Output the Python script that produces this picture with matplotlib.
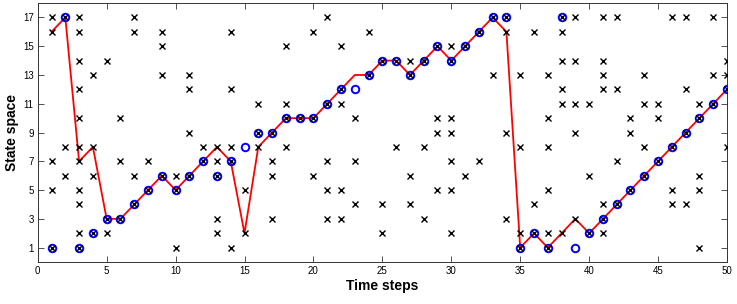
import numpy as np
import matplotlib
matplotlib.use("Agg")
import matplotlib.pyplot as plt

plt.rcParams['font.family'] = ['Liberation Sans', 'DejaVu Sans']

steps = np.arange(1, 51)

# estimated path (red line)
estimate = [16, 17, 7, 8, 3, 3, 4, 5, 6, 5, 6, 7, 8, 7, 2, 8, 9, 10, 10, 10,
            11, 12, 13, 13, 14, 14, 13, 14, 15, 14, 15, 16, 17, 16, 1, 2, 1, 2, 3, 2,
            3, 4, 5, 6, 7, 8, 9, 10, 11, 12]

# true states (blue circles)
true_state = [1, 17, 1, 2, 3, 3, 4, 5, 6, 5, 6, 7, 6, 7, 8, 9, 9, 10, 10, 10,
              11, 12, 12, 13, 14, 14, 13, 14, 15, 14, 15, 16, 17, 17, 1, 2, 1, 17, 1, 2,
              3, 4, 5, 6, 7, 8, 9, 10, 11, 12]

# candidate states at each time step (black crosses)
candidates = [
    [17, 16, 7, 5, 1],
    [17, 8, 6],
    [17, 16, 14, 12, 10, 8, 7, 5, 4, 2, 1],
    [13, 8, 6, 2],
    [14, 3, 2],
    [10, 7, 3],
    [17, 16, 6, 4],
    [7, 5],
    [16, 15, 13, 6],
    [6, 5, 1],
    [13, 12, 9, 6],
    [8, 7],
    [8, 7, 6, 3, 2],
    [16, 12, 8, 7, 1],
    [5, 2],
    [11, 9, 8],
    [9, 7, 6, 3],
    [15, 11, 10, 8],
    [10],
    [16, 10, 6],
    [17, 11, 7, 5, 3],
    [15, 12, 11, 5, 3],
    [10, 7, 4],
    [16, 13],
    [14, 4, 2],
    [14, 8],
    [14, 13, 6, 4],
    [14, 8, 3],
    [15, 10, 9, 5],
    [15, 14, 10, 9, 7, 5, 2],
    [15, 6],
    [16, 7],
    [17, 13],
    [17, 16, 9, 3],
    [13, 8, 2, 1],
    [16, 4, 2],
    [13, 10, 8, 5, 2, 1],
    [17, 16, 14, 12, 11, 2],
    [17, 14, 11, 9, 3],
    [11, 6, 2],
    [17, 14, 13, 12, 4, 3, 2],
    [17, 12, 7, 4],
    [10, 9, 5],
    [13, 11, 8, 6],
    [11, 10, 7],
    [17, 8, 5, 4],
    [17, 12, 9, 4],
    [11, 10, 6, 5, 1],
    [17, 13, 11],
    [14, 13, 12, 8],
]

cx = [t for t, c in zip(steps, candidates) for _ in c]
cy = [s for c in candidates for s in c]

fig = plt.figure(figsize=(7.37, 3.04), dpi=100)
ax = fig.add_axes([0.0512, 0.138, 0.9352, 0.852])

ax.plot(steps, estimate, '-', color='red', lw=1.3, zorder=2)
ax.plot(steps, true_state, 'o', mfc='none', mec='blue', ms=5.4, mew=1.4, zorder=3)
ax.plot(cx, cy, 'x', color='black', ms=3.9, mew=1.0, zorder=4)

ax.set_xlim(0, 50)
ax.set_ylim(0, 18)
ax.set_xticks(np.arange(0, 51, 5))
ax.set_yticks(np.arange(1, 18, 2))
ax.tick_params(direction='in', top=True, right=True, length=4, width=0.6,
               labelsize=7, pad=3, colors='#333333', labelcolor='black')
for sp in ax.spines.values():
    sp.set_color('#333333')
    sp.set_linewidth(0.7)

ax.set_xlabel('Time steps', fontsize=10, fontweight='bold', labelpad=2)
ax.set_ylabel('State space', fontsize=10, fontweight='bold', labelpad=3)

fig.savefig('out.png', dpi=100)
